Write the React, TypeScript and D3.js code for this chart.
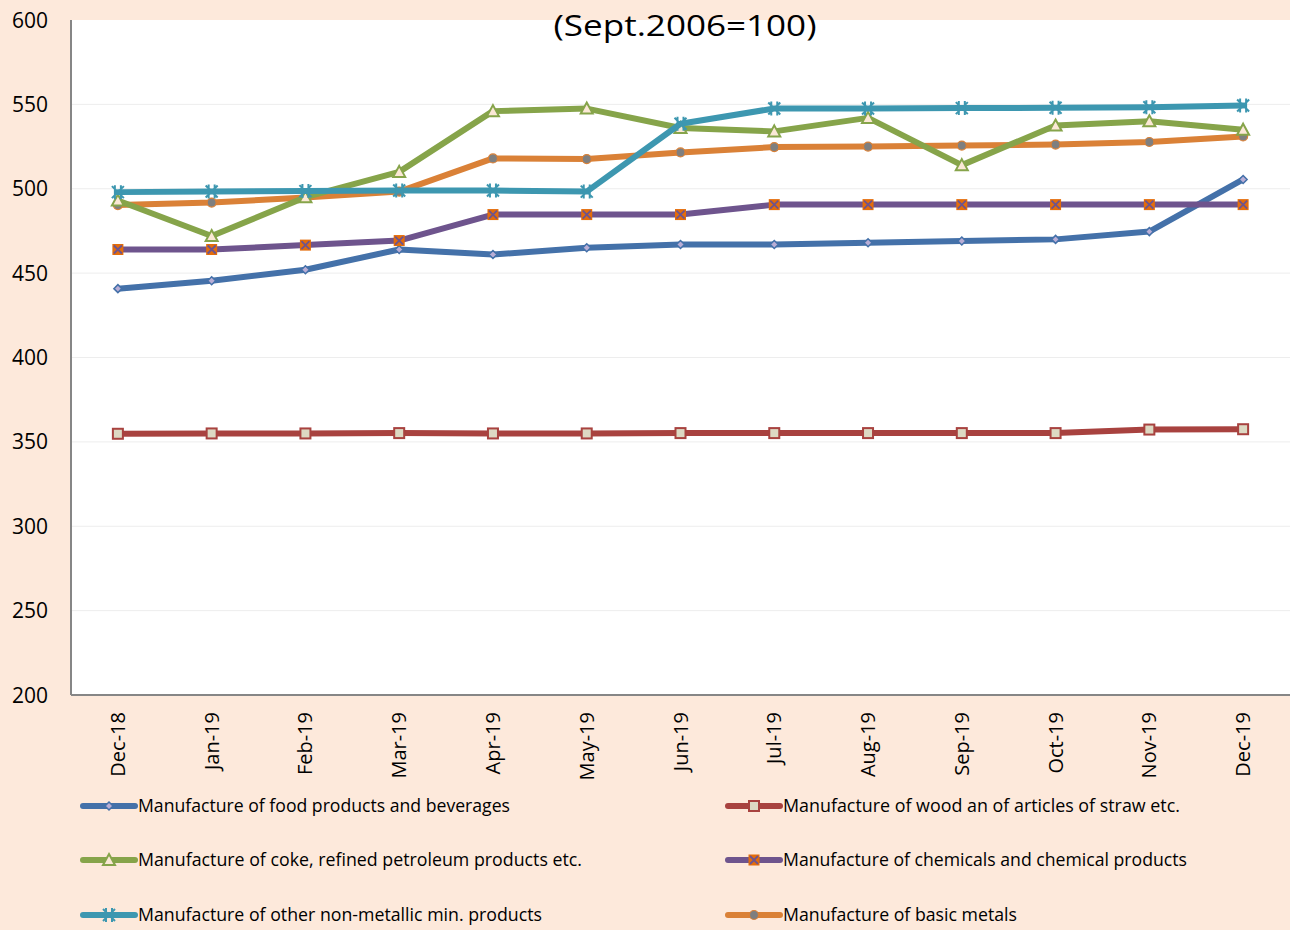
import React from "react";
import * as d3 from "d3";

const months = ["Dec-18","Jan-19","Feb-19","Mar-19","Apr-19","May-19","Jun-19","Jul-19","Aug-19","Sep-19","Oct-19","Nov-19","Dec-19"];
const yTicks = [200,250,300,350,400,450,500,550,600];

const foodValues = [440.8,445.5,452,464,461,465,467,467,468,469,470,474.6,505.5];
const woodValues = [354.8,355,355,355.2,355,355,355.2,355.2,355.2,355.2,355.2,357.3,357.5];
const cokeValues = [493,472,495,510,546,547.5,536,534,542,514,537.5,540,535];
const nonMetalValues = [498,498.4,498.6,499,499,498.3,538.5,547.6,547.6,547.8,548,548.3,549.3];
const chemValues = [464,464,466.6,469.3,484.7,484.7,484.7,490.6,490.6,490.6,490.6,490.6,490.6];
const metalValues = [490.3,491.8,494.8,498.3,518,517.6,521.5,524.7,525,525.6,526.2,527.7,531];

const seriesNames = [
  "Manufacture of food products and beverages",
  "Manufacture of wood an of articles of straw etc.",
  "Manufacture of coke, refined petroleum products etc.",
  "Manufacture of chemicals and chemical products",
  "Manufacture of other non-metallic min. products",
  "Manufacture of basic metals",
];

const series = [
  { name: seriesNames[0], values: foodValues, color: "#4471A9", marker: "diamond" },
  { name: seriesNames[1], values: woodValues, color: "#A8423F", marker: "square" },
  { name: seriesNames[2], values: cokeValues, color: "#86A44A", marker: "triangle" },
  { name: seriesNames[3], values: chemValues, color: "#6E548D", marker: "xsquare" },
  { name: seriesNames[4], values: nonMetalValues, color: "#3D97B0", marker: "star" },
  { name: seriesNames[5], values: metalValues, color: "#DA8137", marker: "circle" },
];

const drawOrder = [0, 1, 3, 5, 2, 4];

const legendText = [372, 397, 444, 404, 404, 234];

function Marker({ type, x, y, color }: { type: string; x: number; y: number; color: string }) {
  if (type === "diamond") {
    return <path d={`M${x},${y-4}L${x+4},${y}L${x},${y+4}L${x-4},${y}Z`} fill="#B9AED6" stroke={color} strokeWidth={1.5} />;
  }
  if (type === "square") {
    return <rect x={x-5} y={y-5} width={10} height={10} fill="#DDD9C3" stroke={color} strokeWidth={2} />;
  }
  if (type === "triangle") {
    return <path d={`M${x},${y-6}L${x+6},${y+5}L${x-6},${y+5}Z`} fill="#FBE8D6" stroke={color} strokeWidth={2} />;
  }
  if (type === "xsquare") {
    return (
      <g>
        <rect x={x-5.5} y={y-5.5} width={11} height={11} fill="#E46C0A" />
        <path d={`M${x-4},${y-4}L${x+4},${y+4}M${x+4},${y-4}L${x-4},${y+4}`} stroke={color} strokeWidth={1.8} />
      </g>
    );
  }
  if (type === "star") {
    return (
      <path d={`M${x-6},${y-6}L${x+6},${y+6}M${x+6},${y-6}L${x-6},${y+6}M${x-3},${y-7}L${x-3},${y+7}M${x+3},${y-7}L${x+3},${y+7}`} stroke={color} strokeWidth={2} />
    );
  }
  return <circle cx={x} cy={y} r={4.5} fill="#7F7F7F" stroke={color} strokeWidth={1.2} />;
}

export default function App() {
  const W = 1290, H = 930;
  const left = 71, right = 1290, top = 20, bottom = 695;
  const x = d3.scalePoint<string>().domain(months).range([left, right]).padding(0.5);
  const y = d3.scaleLinear().domain([200, 600]).range([bottom, top]);
  const line = d3.line<number>().x((_, i) => x(months[i]) as number).y((v) => y(v));
  const font = "'Open Sans', sans-serif";

  const legendPos = [
    { lx: 83, ly: 806 }, { lx: 728, ly: 806 },
    { lx: 83, ly: 860 }, { lx: 728, ly: 860 },
    { lx: 83, ly: 915 }, { lx: 728, ly: 915 },
  ];

  return (
    <svg width={W} height={H} style={{ position: "absolute", left: 0, top: 0, display: "block" }}>
      <rect x={0} y={0} width={W} height={H} fill="#FDE9DB" />
      <rect x={left} y={top} width={right - left} height={bottom - top} fill="#FFFFFF" />
      {yTicks.map((t) => (
        <g key={t}>
          {t > 200 && t < 600 && <line x1={left} x2={right} y1={y(t)} y2={y(t)} stroke="#EDEDED" strokeWidth={1} />}
          <text x={48} y={y(t)} dy="0.36em" textAnchor="end" fontFamily={font} fontSize={21} fill="#000">{t}</text>
        </g>
      ))}
      <line x1={left} x2={left} y1={top} y2={bottom} stroke="#868686" strokeWidth={2} />
      <line x1={left} x2={right} y1={bottom} y2={bottom} stroke="#868686" strokeWidth={2} />
      <text x={685} y={36} textAnchor="middle" fontFamily={font} fontSize={30} textLength={263} lengthAdjust="spacingAndGlyphs" fill="#000">(Sept.2006=100)</text>
      {months.map((m) => (
        <text key={m} transform={`translate(${(x(m) as number) + 7},712) rotate(-90)`} textAnchor="end" fontFamily={font} fontSize={20} fill="#000">{m}</text>
      ))}
      {drawOrder.map((si) => {
        const s = series[si];
        return (
          <g key={s.name}>
            <path d={line(s.values) || ""} fill="none" stroke={s.color} strokeWidth={6} strokeLinejoin="round" strokeLinecap="round" />
            {s.values.map((v, i) => (
              <Marker key={i} type={s.marker} x={x(months[i]) as number} y={y(v)} color={s.color} />
            ))}
          </g>
        );
      })}
      {series.map((s, i) => {
        const p = legendPos[i];
        return (
          <g key={s.name}>
            <line x1={p.lx} x2={p.lx + 52} y1={p.ly} y2={p.ly} stroke={s.color} strokeWidth={6} strokeLinecap="round" />
            <Marker type={s.marker} x={p.lx + 26} y={p.ly} color={s.color} />
            <text x={p.lx + 55} y={p.ly} dy="0.36em" fontFamily={font} fontSize={18} textLength={legendText[i]} lengthAdjust="spacingAndGlyphs" fill="#000">{s.name}</text>
          </g>
        );
      })}
    </svg>
  );
}
